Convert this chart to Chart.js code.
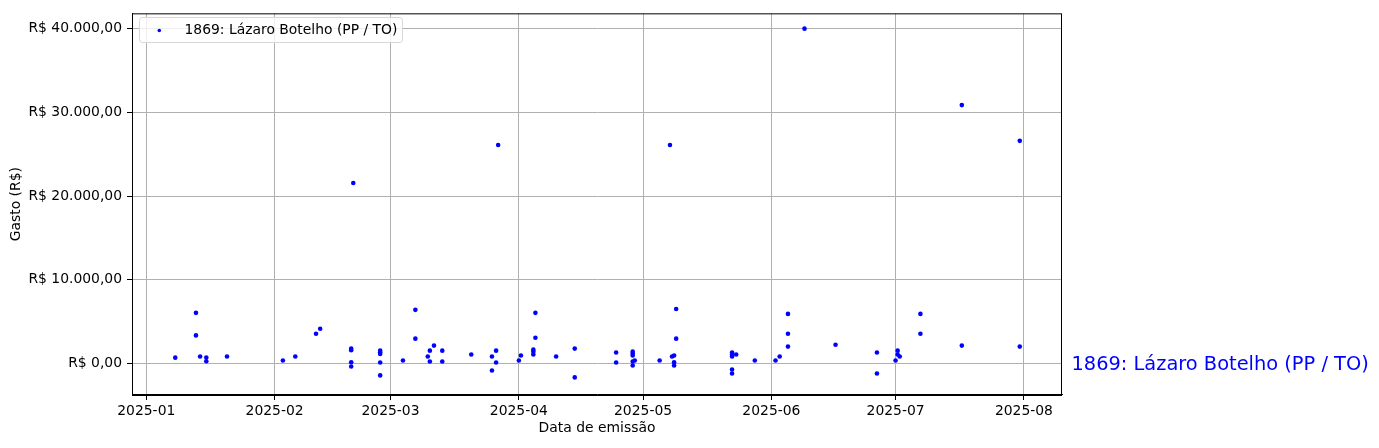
<!DOCTYPE html>
<html>
<head>
<meta charset="utf-8">
<script src="https://cdn.jsdelivr.net/npm/chart.js@4/dist/chart.umd.min.js"></script>
<style>
  html, body { margin: 0; padding: 0; background: #fff; }
  canvas { display: block; }
</style>
</head>
<body>
<canvas id="chart" width="1379" height="448"></canvas>
<script>
// dados (data de emissão, gasto em R$)
const seriesName = '1869: Lázaro Botelho (PP / TO)';
const dates = [
  '2025-01-08', '2025-01-13', '2025-01-13', '2025-01-14', '2025-01-15 12', '2025-01-15 12', '2025-01-20 12',
  '2025-02-03', '2025-02-06', '2025-02-11', '2025-02-12', '2025-02-19 12', '2025-02-19 12', '2025-02-19 12',
  '2025-02-19 12', '2025-02-20', '2025-02-26 12', '2025-02-26 12', '2025-02-26 12', '2025-02-26 12', '2025-02-26 12',
  '2025-03-04', '2025-03-07', '2025-03-07', '2025-03-10', '2025-03-10 12', '2025-03-10 12', '2025-03-11 12',
  '2025-03-13 12', '2025-03-13 12', '2025-03-20 12', '2025-03-25 12', '2025-03-25 12', '2025-03-26 12',
  '2025-03-26 12', '2025-03-27',
  '2025-04-01', '2025-04-01 12', '2025-04-04 12', '2025-04-04 12', '2025-04-04 12', '2025-04-05', '2025-04-05',
  '2025-04-10', '2025-04-14 12', '2025-04-14 12', '2025-04-24 12', '2025-04-24 12', '2025-04-28 12',
  '2025-04-28 12', '2025-04-28 12', '2025-04-29', '2025-04-28 12', '2025-04-28 12',
  '2025-05-05', '2025-05-07 12', '2025-05-08', '2025-05-08 12', '2025-05-08 12', '2025-05-08 12', '2025-05-09',
  '2025-05-09', '2025-05-22 12', '2025-05-22 12', '2025-05-22 12', '2025-05-23 12', '2025-05-22 12',
  '2025-05-22 12', '2025-05-28',
  '2025-06-02', '2025-06-03', '2025-06-05', '2025-06-05', '2025-06-05', '2025-06-09', '2025-06-16 12',
  '2025-06-26 12', '2025-06-26 12',
  '2025-07-01', '2025-07-01 12', '2025-07-01 12', '2025-07-02', '2025-07-07', '2025-07-07', '2025-07-17',
  '2025-07-17', '2025-07-31', '2025-07-31'
];
const values = [
  700, 6050, 3360, 830, 710, 270, 830,
  360, 830, 3560, 4150, 1780, 1580, 150,
  -360, 21560, 1540, 1340, 1140, 120, -1420,
  360, 6410, 2970, 830, 1540, 240, 2140,
  1540, 240, 1070, 830, -830, 1540,
  120, 26100,
  360, 950, 1660, 1420, 1070, 6050, 3080,
  830, 1780, -1660, 1310, 120, 1420,
  1190, 950, 360, 240, -240,
  360, 26100, 830, 950, 150, -240, 6520,
  2970, 1310, 1070, 830, 1070, -710,
  -1190, 360,
  360, 830, 5930, 3560, 2020, 40000, 2250,
  1310, -1190,
  360, 1540, 1070, 830, 5930, 3560, 2140,
  30870, 2020, 26600
];
const monthTicks = ['2025-01', '2025-02', '2025-03', '2025-04', '2025-05', '2025-06', '2025-07', '2025-08'];
const yTicks = [0, 10000, 20000, 30000, 40000];

const DAY0 = Date.UTC(2025, 0, 1);
function dayIndex(s) {
  const [d, t] = s.split(' ');
  const [Y, M, D] = d.split('-').map(Number);
  const h = t ? parseInt(t, 10) : 0;
  return (Date.UTC(Y, M - 1, D || 1, h) - DAY0) / 864e5;
}
const tickDays = monthTicks.map(m => dayIndex(m + '-01'));

function brl(v) {
  const neg = v < 0;
  const [int, dec] = Math.abs(v).toFixed(2).split('.');
  const grouped = int.replace(/\B(?=(\d{3})+(?!\d))/g, '.');
  return 'R$ ' + (neg ? '-' : '') + grouped + ',' + dec;
}

const FONT = 'DejaVu Sans';
const FS = 13.9;

// moldura, legenda e rótulo à direita (como no matplotlib)
const extras = {
  id: 'extras',
  afterDraw(chart) {
    const { ctx, chartArea: a } = chart;
    ctx.save();
    ctx.strokeStyle = '#000';
    ctx.lineWidth = 1;
    ctx.strokeRect(a.left + 0.5, a.top + 0.5, a.right - a.left - 1, a.bottom - a.top);

    // legenda
    const lx = 139.5, ly = 17.5, lw = 263, lh = 25, r = 3;
    ctx.beginPath();
    ctx.moveTo(lx + r, ly);
    ctx.arcTo(lx + lw, ly, lx + lw, ly + lh, r);
    ctx.arcTo(lx + lw, ly + lh, lx, ly + lh, r);
    ctx.arcTo(lx, ly + lh, lx, ly, r);
    ctx.arcTo(lx, ly, lx + lw, ly, r);
    ctx.closePath();
    ctx.fillStyle = 'rgba(255,255,255,0.8)';
    ctx.fill();
    ctx.strokeStyle = '#d6d6d6';
    ctx.stroke();
    ctx.fillStyle = '#0000ff';
    ctx.beginPath();
    ctx.arc(159.3, 30.5, 1.8, 0, Math.PI * 2);
    ctx.fill();
    ctx.fillStyle = '#000';
    ctx.font = FS + 'px "' + FONT + '"';
    ctx.textBaseline = 'middle';
    ctx.fillText(seriesName, 184.5, 30);

    // nome à direita
    const y0 = chart.scales.y.getPixelForValue(0);
    ctx.fillStyle = '#0000ff';
    ctx.font = '19.4px "' + FONT + '"';
    ctx.textBaseline = 'alphabetic';
    ctx.fillText(seriesName, 1071.5, y0 + 6.5);
    ctx.restore();
  }
};

new Chart(document.getElementById('chart'), {
  type: 'scatter',
  data: {
    datasets: [{
      label: seriesName,
      data: dates.map((d, i) => ({ x: dayIndex(d), y: values[i] })),
      backgroundColor: '#0000ff',
      borderWidth: 0,
      pointRadius: 2.3,
      pointHoverRadius: 2.3
    }]
  },
  options: {
    responsive: false,
    animation: false,
    devicePixelRatio: 1,
    layout: { padding: { top: 10, right: 317, left: 0, bottom: 0 } },
    plugins: { legend: { display: false }, tooltip: { enabled: false } },
    scales: {
      x: {
        type: 'linear',
        min: -3.45,
        max: 221.2,
        afterBuildTicks: axis => { axis.ticks = tickDays.map(v => ({ value: v })); },
        afterFit: axis => { axis.height = 53; },
        ticks: {
          autoSkip: false,
          maxRotation: 0,
          padding: 3,
          color: '#000',
          font: { family: FONT, size: FS },
          callback: v => monthTicks[tickDays.indexOf(v)] || ''
        },
        grid: { color: '#b0b0b0', lineWidth: 1, tickLength: 5, tickColor: '#000', tickWidth: 1 },
        border: { color: '#000', width: 1 },
        title: {
          display: true, text: 'Data de emissão', color: '#000',
          font: { family: FONT, size: FS }, padding: { top: 0, bottom: 11 }
        }
      },
      y: {
        min: -3760,
        max: 41830,
        afterBuildTicks: axis => { axis.ticks = yTicks.map(v => ({ value: v })); },
        afterFit: axis => { axis.width = 132; },
        ticks: {
          padding: 5,
          color: '#000',
          font: { family: FONT, size: FS },
          callback: v => brl(v)
        },
        grid: { color: '#b0b0b0', lineWidth: 1, tickLength: 5, tickColor: '#000', tickWidth: 1 },
        border: { color: '#000', width: 1 },
        title: {
          display: true, text: 'Gasto (R$)', color: '#000',
          font: { family: FONT, size: FS }, padding: { top: 8, bottom: 0 }
        }
      }
    }
  },
  plugins: [extras]
});
</script>
</body>
</html>
